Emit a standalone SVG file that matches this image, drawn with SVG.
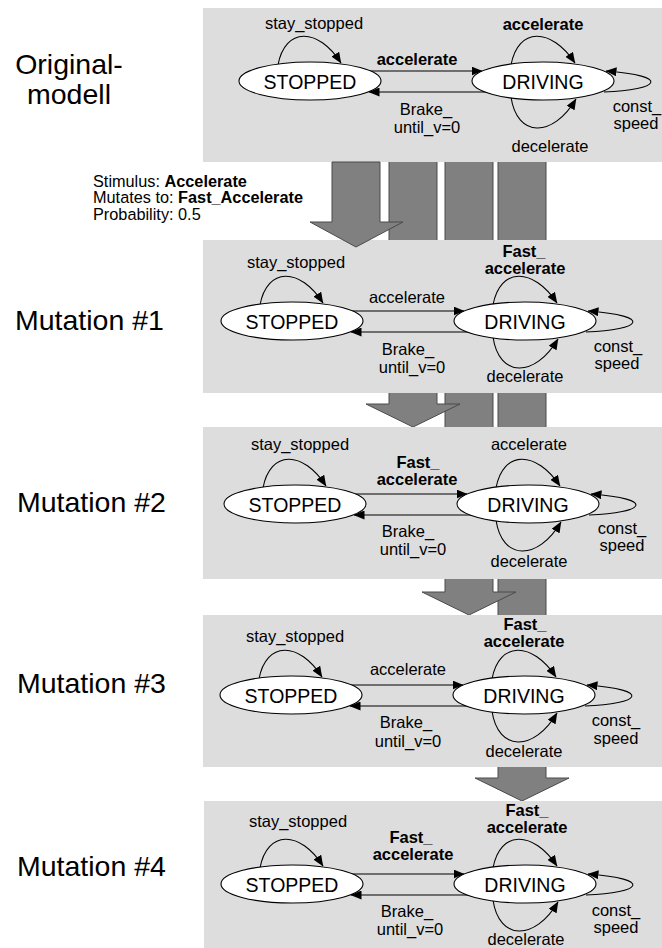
<svg xmlns="http://www.w3.org/2000/svg" width="662" height="948" viewBox="0 0 662 948">
  <style>
    .panel { fill: #dddddd; stroke: none; }
    .flow { fill: #808080; stroke: #4a4a4a; stroke-width: 1; }
    .state { fill: #ffffff; stroke: #000000; stroke-width: 1.1; }
    .edge { fill: none; stroke: #000000; stroke-width: 1.1; marker-end: url(#tip); }
    text { font-family: "Liberation Sans", Arial, sans-serif; fill: #000000; }
    .sname { font-size: 19.5px; text-anchor: middle; }
    .lbl { font-size: 16.5px; text-anchor: middle; }
    .b { font-weight: bold; }
    .title { font-size: 28.5px; }
    .note { font-size: 16.3px; }
  </style>
  <defs>
    <marker id="tip" viewBox="0 0 11 9" refX="10.5" refY="4.5" markerWidth="11" markerHeight="9" markerUnits="userSpaceOnUse" orient="auto">
      <path d="M0,0 L11,4.5 L0,9 z" fill="#000000"/>
    </marker>
    <!-- one state machine's transitions, relative to the STOPPED centre -->
    <g id="edges">
      <path class="edge" d="M -32,-16 C -25,-54 8,-54 31,-18"/>
      <path class="edge" d="M 201,-16 C 208,-54 241,-54 265,-18"/>
      <path class="edge" d="M 50,-10 L 172,-10"/>
      <path class="edge" d="M 182,11 L 59,11"/>
      <path class="edge" d="M 201,16 C 207,57 243,57 266,18"/>
      <path class="edge" d="M 294,11 C 350,9 362,-5 296,-10"/>
    </g>
    <g id="states">
      <ellipse class="state" cx="0" cy="0" rx="71" ry="19"/>
      <text class="sname" x="0" y="7.5">STOPPED</text>
      <ellipse class="state" cx="233" cy="0" rx="71" ry="19"/>
      <text class="sname" x="233" y="7.5">DRIVING</text>
    </g>
  </defs>

  <!-- mutation flow columns, running behind the panels -->
  <g id="flow-back">
    <polygon class="flow" points="498,150 546,150 546,778 569,778 522,801 475,778 498,778"/>
    <polygon class="flow" points="445,150 493,150 493,592 516,592 469,615 422,592 445,592"/>
    <polygon class="flow" points="389,150 437,150 437,404 460,404 413,427 366,404 389,404"/>
  </g>

  <!-- panels -->
  <g id="panels">
    <rect class="panel" x="203" y="8" width="459" height="154"/>
    <rect class="panel" x="203" y="240" width="459" height="153"/>
    <rect class="panel" x="203" y="427" width="459" height="152"/>
    <rect class="panel" x="203" y="615" width="459" height="152"/>
    <rect class="panel" x="204" y="801" width="458" height="147"/>
  </g>

  <g id="flow-front">
    <polygon class="flow" points="332,162 380,162 380,222 403,222 356,247 310,222 332,222"/>
  </g>

  <!-- row titles -->
  <g id="titles">
    <text class="title" x="69" y="74" text-anchor="middle">Original-</text>
    <text class="title" x="69" y="104" text-anchor="middle">modell</text>
    <text class="title" x="15" y="330">Mutation #1</text>
    <text class="title" x="17" y="512">Mutation #2</text>
    <text class="title" x="17" y="693">Mutation #3</text>
    <text class="title" x="17" y="876">Mutation #4</text>
  </g>

  <g id="mutation-note">
    <text class="note" x="93" y="186.5">Stimulus: <tspan class="b">Accelerate</tspan></text>
    <text class="note" x="93" y="203">Mutates to: <tspan class="b">Fast_Accelerate</tspan></text>
    <text class="note" x="93" y="219.5">Probability: 0.5</text>
  </g>

  <!-- transitions -->
  <g id="connectors">
    <g id="edges-original" transform="translate(310,81)">
      <use href="#edges"/>
      <text class="lbl" x="4" y="-52">stay_stopped</text>
      <text class="lbl b" x="233" y="-51">accelerate</text>
      <text class="lbl b" x="107" y="-16">accelerate</text>
      <text class="lbl" x="116" y="34">Brake_</text>
      <text class="lbl" x="117" y="52">until_v=0</text>
      <text class="lbl" x="240" y="71">decelerate</text>
      <text class="lbl" x="327" y="30.5">const_</text>
      <text class="lbl" x="326" y="48">speed</text>
    </g>
    <g id="edges-m1" transform="translate(292,321)">
      <use href="#edges"/>
      <text class="lbl" x="4" y="-53">stay_stopped</text>
      <text class="lbl b" x="232" y="-64.5">Fast_</text>
      <text class="lbl b" x="233" y="-47">accelerate</text>
      <text class="lbl" x="115" y="-18">accelerate</text>
      <text class="lbl" x="116" y="34">Brake_</text>
      <text class="lbl" x="120" y="52">until_v=0</text>
      <text class="lbl" x="233" y="61">decelerate</text>
      <text class="lbl" x="326" y="30.5">const_</text>
      <text class="lbl" x="325" y="48">speed</text>
    </g>
    <g id="edges-m2" transform="translate(295,504)">
      <use href="#edges"/>
      <text class="lbl" x="5" y="-54">stay_stopped</text>
      <text class="lbl" x="234" y="-54">accelerate</text>
      <text class="lbl b" x="123" y="-36.5">Fast_</text>
      <text class="lbl b" x="122" y="-19">accelerate</text>
      <text class="lbl" x="113" y="33">Brake_</text>
      <text class="lbl" x="118" y="51">until_v=0</text>
      <text class="lbl" x="234" y="63">decelerate</text>
      <text class="lbl" x="327" y="29.5">const_</text>
      <text class="lbl" x="327" y="47">speed</text>
    </g>
    <g id="edges-m3" transform="translate(291,695)">
      <use href="#edges"/>
      <text class="lbl" x="4" y="-53">stay_stopped</text>
      <text class="lbl b" x="234" y="-65.5">Fast_</text>
      <text class="lbl b" x="233" y="-48">accelerate</text>
      <text class="lbl" x="117" y="-20">accelerate</text>
      <text class="lbl" x="115" y="33">Brake_</text>
      <text class="lbl" x="117" y="52">until_v=0</text>
      <text class="lbl" x="233" y="62">decelerate</text>
      <text class="lbl" x="325" y="31">const_</text>
      <text class="lbl" x="325" y="48.5">speed</text>
    </g>
    <g id="edges-m4" transform="translate(292,884)">
      <use href="#edges"/>
      <text class="lbl" x="6" y="-57">stay_stopped</text>
      <text class="lbl b" x="235" y="-68.5">Fast_</text>
      <text class="lbl b" x="235" y="-51">accelerate</text>
      <text class="lbl b" x="119" y="-41.5">Fast_</text>
      <text class="lbl b" x="121" y="-24">accelerate</text>
      <text class="lbl" x="115" y="33">Brake_</text>
      <text class="lbl" x="118" y="51">until_v=0</text>
      <text class="lbl" x="234" y="61">decelerate</text>
      <text class="lbl" x="324" y="31.5">const_</text>
      <text class="lbl" x="324" y="49">speed</text>
    </g>
  </g>

  <!-- states -->
  <g id="states-original" transform="translate(310,81)"><use href="#states"/></g>
  <g id="states-m1" transform="translate(292,321)"><use href="#states"/></g>
  <g id="states-m2" transform="translate(295,504)"><use href="#states"/></g>
  <g id="states-m3" transform="translate(291,695)"><use href="#states"/></g>
  <g id="states-m4" transform="translate(292,884)"><use href="#states"/></g>
</svg>
